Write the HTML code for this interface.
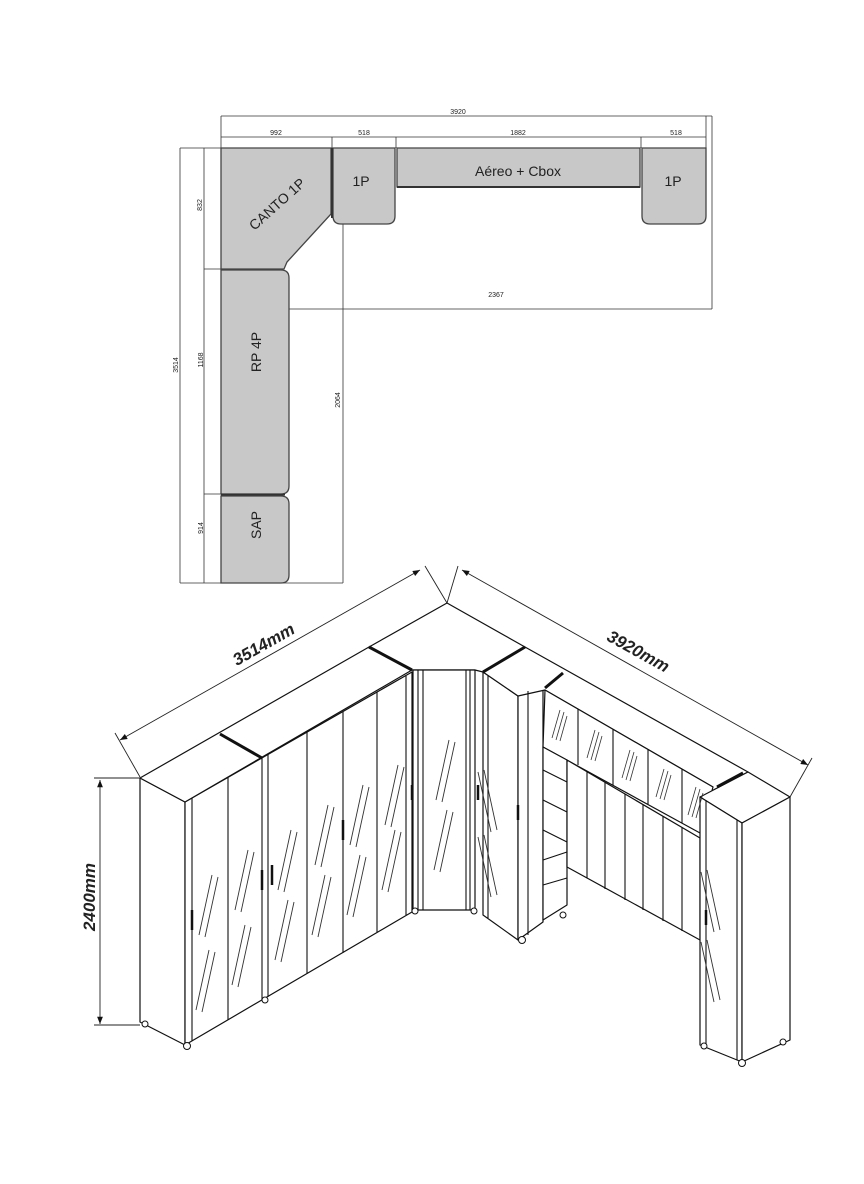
<!DOCTYPE html>
<html><head><meta charset="utf-8"><style>
html,body{margin:0;padding:0;background:#fff}
svg{display:block}
text{font-family:"Liberation Sans",sans-serif;fill:#222}
</style></head><body>
<svg width="864" height="1184" viewBox="0 0 864 1184" xmlns="http://www.w3.org/2000/svg">
<defs>
<g id="h" stroke="#333" stroke-width="0.9"><line x1="0" y1="0" x2="13" y2="-60"/><line x1="6" y1="2" x2="19" y2="-58"/></g>
<g id="hs" stroke="#333" stroke-width="0.8"><line x1="0" y1="0" x2="8" y2="-28"/><line x1="4" y1="2" x2="12" y2="-26"/><line x1="8" y1="3" x2="15" y2="-22"/></g>
<marker id="ar" viewBox="0 0 10 10" refX="10" refY="5" markerWidth="10" markerHeight="8" orient="auto-start-reverse"><path d="M0,1 L10,5 L0,9 z" fill="#111"/></marker>
</defs>

<!-- ===== PLAN VIEW ===== -->
<g stroke="#333" stroke-width="0.8" fill="none">
<line x1="221" y1="116" x2="712" y2="116"/>
<line x1="221" y1="137" x2="706" y2="137"/>
<line x1="221" y1="116" x2="221" y2="148"/>
<line x1="712" y1="116" x2="712" y2="309"/>
<line x1="332" y1="137" x2="332" y2="148"/>
<line x1="396" y1="137" x2="396" y2="148"/>
<line x1="641" y1="137" x2="641" y2="148"/>
<line x1="706" y1="116" x2="706" y2="148"/>
<line x1="180" y1="148" x2="221" y2="148"/>
<line x1="180" y1="148" x2="180" y2="583"/>
<line x1="204" y1="148" x2="204" y2="583"/>
<line x1="204" y1="269" x2="221" y2="269"/>
<line x1="204" y1="494" x2="221" y2="494"/>
<line x1="180" y1="583" x2="343" y2="583"/>
<line x1="343" y1="224" x2="343" y2="583"/>
<line x1="289" y1="309" x2="712" y2="309"/>
</g>
<g fill="#c8c8c8" stroke="#444" stroke-width="1.3">
<path d="M221,148 H331 V214 L287,262 L284,269 H221 Z"/>
<path d="M333,148 H395 V216 Q395,224 387,224 H341 Q333,224 333,216 Z"/>
<path d="M397,148 H640 V187 H397 Z"/>
<path d="M642,148 H706 V216 Q706,224 698,224 H650 Q642,224 642,216 Z"/>
<path d="M221,270 H281 Q289,270 289,278 V486 Q289,494 281,494 H221 Z"/>
<path d="M221,496 H281 Q289,496 289,504 V575 Q289,583 281,583 H221 Z"/>
</g>
<g stroke="#333" stroke-width="2"><line x1="332" y1="148" x2="332" y2="218"/><line x1="221" y1="494.5" x2="285" y2="494.5"/><line x1="397" y1="187" x2="640" y2="187"/></g>
<text x="277" y="209" font-size="14" text-anchor="middle" transform="rotate(-42 277 204)">CANTO 1P</text>
<text x="361" y="186" font-size="14" text-anchor="middle">1P</text>
<text x="518" y="176" font-size="14" text-anchor="middle">Aéreo + Cbox</text>
<text x="673" y="186" font-size="14" text-anchor="middle">1P</text>
<text x="256" y="357" font-size="14" text-anchor="middle" transform="rotate(-90 256 352)">RP 4P</text>
<text x="256" y="530" font-size="14" text-anchor="middle" transform="rotate(-90 256 525)">SAP</text>
<g font-size="7" text-anchor="middle">
<text x="458" y="114">3920</text><text x="276" y="135">992</text><text x="364" y="135">518</text>
<text x="518" y="135">1882</text><text x="676" y="135">518</text><text x="496" y="297">2367</text>
<text x="200" y="207" transform="rotate(-90 200 205)">832</text>
<text x="201" y="362" transform="rotate(-90 201 360)">1168</text>
<text x="176" y="367" transform="rotate(-90 176 365)">3514</text>
<text x="201" y="530" transform="rotate(-90 201 528)">914</text>
<text x="338" y="402" transform="rotate(-90 338 400)">2064</text>
</g>

<!-- ===== ISOMETRIC ===== -->
<g stroke="#222" stroke-width="0.9" fill="none">
<line x1="120" y1="740" x2="420" y2="570" marker-start="url(#ar)" marker-end="url(#ar)"/>
<line x1="115" y1="733" x2="140" y2="777"/>
<line x1="425" y1="566" x2="447" y2="603"/>
<line x1="462" y1="570" x2="808" y2="765" marker-start="url(#ar)" marker-end="url(#ar)"/>
<line x1="458" y1="566" x2="447" y2="603"/>
<line x1="812" y1="758" x2="790" y2="797"/>
<line x1="100" y1="780" x2="100" y2="1024" marker-start="url(#ar)" marker-end="url(#ar)"/>
<line x1="94" y1="778" x2="140" y2="778"/>
<line x1="94" y1="1025" x2="140" y2="1025"/>
</g>
<text x="264" y="650" font-size="17" font-weight="bold" font-style="italic" text-anchor="middle" transform="rotate(-29.5 264 645)">3514mm</text>
<text x="638" y="657" font-size="17" font-weight="bold" font-style="italic" text-anchor="middle" transform="rotate(29 638 652)">3920mm</text>
<text x="90" y="902" font-size="17" font-weight="bold" font-style="italic" text-anchor="middle" transform="rotate(-90 90 897)">2400mm</text>

<g fill="#fff" stroke="#111" stroke-width="1.2" stroke-linejoin="round">
<path d="M140,778 L185,802 L185,1045 L140,1022 Z"/>
<path d="M185,802 L412,672 L412,912 L185,1045 Z"/>
<path d="M140,778 L369,647 L412,670 L185,802 Z"/>
<path d="M369,647 L447,603 L525,647 L483,672 L475,670 L412,670 Z"/>
<path d="M413,670 L475,670 L475,910 L413,910 Z"/>
<path d="M483,672 L518,696 L518,940 L483,915 Z"/>
<path d="M518,696 L543,684 L543,922 L518,940 Z"/>
<path d="M525,647 L748,772 L700,797 L713,787 L545,690 L518,696 L483,672 Z"/>
<path d="M545,690 L713,787 L700,833 L543,747 Z"/>
<path d="M543,747 L567,760 L567,905 L543,920 Z"/>
<path d="M567,760 L700,838 L700,940 L567,867 Z"/>
<path d="M700,797 L748,772 L790,797 L742,823 Z"/>
<path d="M700,797 L742,823 L742,1062 L700,1045 Z"/>
<path d="M742,823 L790,797 L790,1040 L742,1062 Z"/>
</g>
<g stroke="#111" stroke-width="3">
<line x1="220" y1="734" x2="262" y2="758"/>
<line x1="369" y1="647" x2="412" y2="670"/>
<line x1="525" y1="647" x2="483" y2="672"/>
<line x1="563" y1="673" x2="545" y2="688"/>
<line x1="743" y1="773" x2="717" y2="787"/>
</g>
<g stroke="#111" stroke-width="1.1">
<line x1="192" y1="798" x2="192" y2="1041"/>
<line x1="228" y1="777" x2="228" y2="1020"/>
<line x1="262" y1="758" x2="262" y2="1000"/>
<line x1="268" y1="754" x2="268" y2="997"/>
<line x1="307" y1="732" x2="307" y2="974"/>
<line x1="343" y1="712" x2="343" y2="953"/>
<line x1="377" y1="692" x2="377" y2="932"/>
<line x1="406" y1="676" x2="406" y2="915"/>
<line x1="418" y1="670" x2="418" y2="910"/>
<line x1="423" y1="670" x2="423" y2="910"/>
<line x1="466" y1="670" x2="466" y2="910"/>
<line x1="470" y1="670" x2="470" y2="910"/>
<line x1="488" y1="675" x2="488" y2="918"/>
<line x1="528" y1="691" x2="528" y2="935"/>
<line x1="578" y1="709" x2="578" y2="765"/>
<line x1="613" y1="729" x2="613" y2="785"/>
<line x1="648" y1="749" x2="648" y2="804"/>
<line x1="682" y1="769" x2="682" y2="823"/>
<line x1="587" y1="772" x2="587" y2="878"/>
<line x1="605" y1="782" x2="605" y2="889"/>
<line x1="625" y1="794" x2="625" y2="900"/>
<line x1="643" y1="805" x2="643" y2="910"/>
<line x1="663" y1="816" x2="663" y2="921"/>
<line x1="682" y1="827" x2="682" y2="931"/>
<line x1="706" y1="800" x2="706" y2="1046"/>
<line x1="737" y1="820" x2="737" y2="1060"/>
<line x1="543" y1="770" x2="567" y2="782"/>
<line x1="543" y1="800" x2="567" y2="812"/>
<line x1="543" y1="830" x2="567" y2="842"/>
<line x1="543" y1="860" x2="567" y2="852"/>
<line x1="543" y1="885" x2="567" y2="878"/>
</g>
<g stroke="#111" stroke-width="2.5">
<line x1="192" y1="910" x2="192" y2="930"/><line x1="262" y1="870" x2="262" y2="890"/>
<line x1="272" y1="865" x2="272" y2="885"/><line x1="343" y1="820" x2="343" y2="840"/>
<line x1="412" y1="785" x2="412" y2="800"/><line x1="478" y1="785" x2="478" y2="800"/>
<line x1="518" y1="805" x2="518" y2="820"/><line x1="706" y1="910" x2="706" y2="925"/>
</g>
<g fill="#fff" stroke="#111" stroke-width="1">
<circle cx="187" cy="1046" r="3.5"/><circle cx="145" cy="1024" r="3"/><circle cx="265" cy="1000" r="3"/>
<circle cx="522" cy="940" r="3.5"/><circle cx="563" cy="915" r="3"/><circle cx="742" cy="1063" r="3.5"/>
<circle cx="704" cy="1046" r="3"/><circle cx="783" cy="1042" r="3"/><circle cx="415" cy="911" r="3"/><circle cx="474" cy="911" r="3"/>
</g>
<use href="#h" x="199" y="935"/><use href="#h" x="196" y="1010"/>
<use href="#h" x="235" y="910"/><use href="#h" x="232" y="985"/>
<use href="#h" x="278" y="890"/><use href="#h" x="275" y="960"/>
<use href="#h" x="315" y="865"/><use href="#h" x="312" y="935"/>
<use href="#h" x="350" y="845"/><use href="#h" x="347" y="915"/>
<use href="#h" x="385" y="825"/><use href="#h" x="382" y="890"/>
<use href="#h" x="436" y="800"/><use href="#h" x="434" y="870"/>
<use href="#h" x="493" y="830" transform="translate(990,0) scale(-1,1)"/>
<use href="#h" x="493" y="895" transform="translate(990,0) scale(-1,1)"/>
<use href="#h" x="710" y="930" transform="translate(1430,0) scale(-1,1)"/>
<use href="#h" x="710" y="1000" transform="translate(1430,0) scale(-1,1)"/>
<use href="#hs" x="552" y="738"/><use href="#hs" x="587" y="758"/><use href="#hs" x="622" y="778"/><use href="#hs" x="656" y="797"/><use href="#hs" x="688" y="815"/>
</svg>
</body></html>
